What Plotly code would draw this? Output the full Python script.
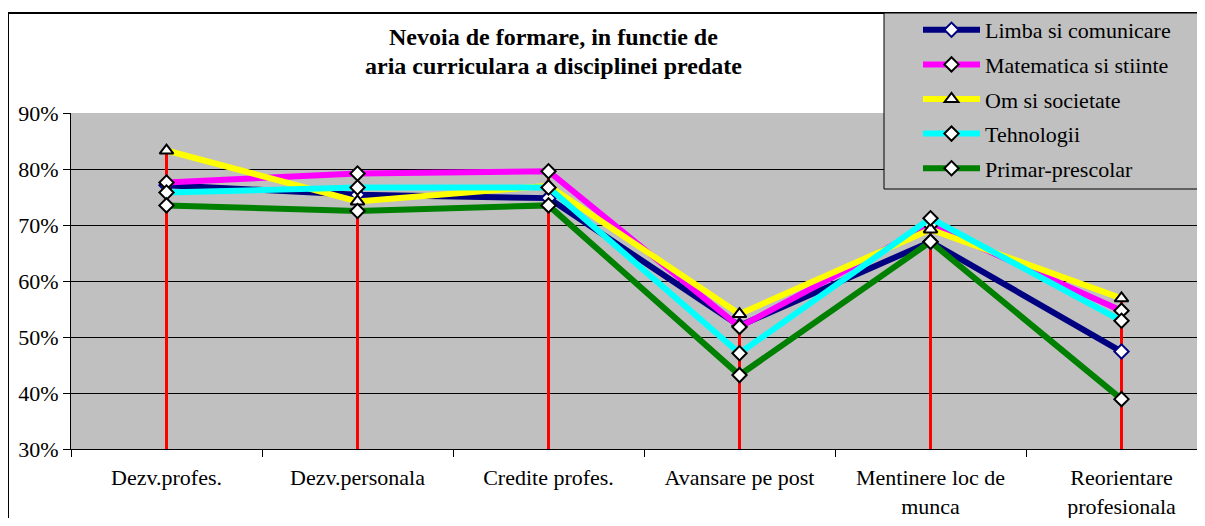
import plotly.graph_objects as go

categories = ["Dezv.profes.", "Dezv.personala", "Credite profes.", "Avansare pe post",
              "Mentinere loc de<br>munca", "Reorientare<br>profesionala"]
series_names = ["Limba si comunicare", "Matematica si stiinte", "Om si societate",
                "Tehnologii", "Primar-prescolar"]
limba = [0.771, 0.754, 0.748, 0.520, 0.670, 0.474]
matematica = [0.776, 0.792, 0.796, 0.518, 0.700, 0.547]
om = [0.833, 0.742, 0.770, 0.541, 0.692, 0.569]
tehnologii = [0.758, 0.767, 0.767, 0.471, 0.712, 0.529]
primar = [0.735, 0.725, 0.735, 0.432, 0.670, 0.389]
y_ticks = [0.3, 0.4, 0.5, 0.6, 0.7, 0.8, 0.9]
title_lines = ["Nevoia de formare, in functie de", "aria curriculara a disciplinei predate"]

all_series = [limba, matematica, om, tehnologii, primar]
line_colors = ["#000080", "#FF00FF", "#FFFF00", "#00FFFF", "#008000"]
marker_symbols = ["diamond", "diamond", "triangle-up", "diamond", "diamond"]
marker_lines = ["#000080", "#000000", "#000000", "#000000", "#000000"]
marker_sizes = [11, 11, 12, 11, 11]

OFF = 8  # page body margin
W, H = 1205 - OFF, 526 - 2 * OFF
L, R, T = 71 - OFF, 0, 113 - OFF
B = H - (449 - OFF)
pw = W - L - R
ph = H - T - B
band = 191.0
ymin, ymax = y_ticks[0], y_ticks[-1]
FONT = "Liberation Serif"


def px_x(x):
    return (x - OFF - L) / pw


def px_y(y):
    return (449 - y) / ph


fig = go.Figure()

# drop lines (red) from highest value down to the axis
dx, dy = [], []
for i, c in enumerate(categories):
    top = max(s[i] for s in all_series)
    dx += [c, c, None]
    dy += [top, ymin, None]
fig.add_trace(go.Scatter(x=dx, y=dy, mode="lines", line=dict(color="#FF0000", width=3),
                         showlegend=False, hoverinfo="skip", cliponaxis=False))

for k, (name, vals) in enumerate(zip(series_names, all_series)):
    fig.add_trace(go.Scatter(
        x=categories, y=vals, name=name, mode="lines+markers",
        legendgroup="g%d" % k,
        line=dict(color=line_colors[k], width=6),
        marker=dict(symbol=marker_symbols[k], size=marker_sizes[k], color="white",
                    line=dict(color=marker_lines[k], width=2)),
        cliponaxis=False,
    ))

x_right = -0.5 + pw / band

fig.update_layout(
    width=W, height=H,
    margin=dict(l=L, r=R, t=T, b=B, pad=0, autoexpand=False),
    paper_bgcolor="white",
    plot_bgcolor="#C0C0C0",
    font=dict(family=FONT, size=22, color="black"),
    showlegend=True,
    legend=dict(
        x=px_x(884), y=px_y(9), xanchor="left", yanchor="top",
        bgcolor="rgba(0,0,0,0)", borderwidth=0,
        font=dict(family=FONT, size=22, color="black"),
        itemwidth=57, tracegroupgap=3, indentation=34,
        traceorder="grouped",
    ),
    xaxis=dict(
        type="category", range=[-0.5, x_right],
        tickson="boundaries", ticks="outside", ticklen=7, tickcolor="black",
        showline=True, linecolor="black", linewidth=1,
        showgrid=False, ticklabelstandoff=9, automargin=False,
        tickfont=dict(family=FONT, size=22, color="black"),
        fixedrange=True,
    ),
    yaxis=dict(
        range=[ymin, ymax], tickvals=y_ticks, tickformat=".0%",
        ticks="outside", ticklen=7, tickcolor="black",
        showline=True, linecolor="black", linewidth=1,
        showgrid=True, gridcolor="black", gridwidth=1,
        zeroline=False, automargin=False,
        tickfont=dict(family=FONT, size=22, color="black"),
        fixedrange=True,
    ),
    shapes=[
        dict(type="rect", xref="paper", yref="paper",
             x0=px_x(8), x1=1.2, y0=-0.6, y1=px_y(13),
             line=dict(color="black", width=2), layer="above"),
        dict(type="rect", xref="paper", yref="paper",
             x0=px_x(884), x1=1.2, y0=px_y(189), y1=px_y(13),
             fillcolor="#C0C0C0", line=dict(color="black", width=1), layer="above"),
    ],
    annotations=[
        dict(text="<b>%s</b>" % title_lines[0], xref="paper", yref="paper",
             x=px_x(553), y=px_y(37), xanchor="center", yanchor="middle",
             showarrow=False, font=dict(family=FONT, size=24, color="black")),
        dict(text="<b>%s</b>" % title_lines[1], xref="paper", yref="paper",
             x=px_x(553), y=px_y(66), xanchor="center", yanchor="middle",
             showarrow=False, font=dict(family=FONT, size=24, color="black")),
    ],
)

fig.write_html("out.html")
